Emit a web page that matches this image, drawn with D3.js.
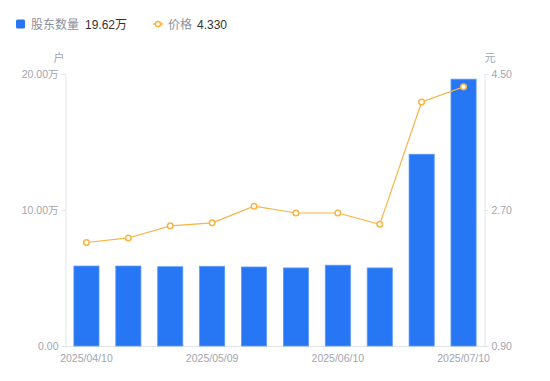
<!DOCTYPE html>
<html>
<head>
<meta charset="utf-8">
<script src="https://cdn.jsdelivr.net/npm/d3@7"></script>
<style>
  body { margin: 0; background: #fff; }
  text { font-family: "Liberation Sans", "Noto Sans CJK SC", sans-serif; }
</style>
</head>
<body>
<svg id="chart" width="550" height="381"></svg>
<script>
// data
var dates = ["2025/04/10", "2025/04/18", "2025/04/30", "2025/05/09", "2025/05/20",
  "2025/05/30", "2025/06/10", "2025/06/20", "2025/06/30", "2025/07/10"];
var holders = [5.88, 5.88, 5.83, 5.86, 5.81, 5.74, 5.94, 5.74, 14.1, 19.62]; // 万户
var prices = [2.27, 2.33, 2.49, 2.53, 2.75, 2.66, 2.66, 2.51, 4.13, 4.33];
var leftTicks = [0, 10, 20];
var rightTicks = [0.9, 2.7, 4.5];
var shownDates = ["2025/04/10", "2025/05/09", "2025/06/10", "2025/07/10"];

var svg = d3.select("#chart");
var m = { left: 65.5, right: 484.5, top: 74, bottom: 346 };

var x = d3.scaleBand().domain(dates).range([m.left, m.right]).paddingInner(0.4).paddingOuter(0.2);
var xc = d3.scaleBand().domain(dates).range([m.left, m.right]);
var y = d3.scaleLinear().domain([0, 20]).range([m.bottom, m.top]);
var y2 = d3.scaleLinear().domain([0.9, 4.5]).range([m.bottom, m.top]);

var gray = "#a2a5b0";
var axisColor = "#e3e5ea";
var orange = "#f8b444";
var blue = "#2777f4";

// left axis
var yAxis = svg.append("g")
  .attr("transform", "translate(" + m.left + ",0)")
  .call(d3.axisLeft(y).tickValues(leftTicks).tickSize(4).tickPadding(3)
    .tickFormat(function(d) { return d === 0 ? "0.00" : d.toFixed(2) + "万"; }));
// right axis
var y2Axis = svg.append("g")
  .attr("transform", "translate(" + m.right + ",0)")
  .call(d3.axisRight(y2).tickValues(rightTicks).tickSize(4).tickPadding(3)
    .tickFormat(function(d) { return d.toFixed(2); }));
// bottom axis
var xAxis = svg.append("g")
  .attr("transform", "translate(0," + m.bottom + ")")
  .call(d3.axisBottom(xc).tickSize(0).tickPadding(9)
    .tickFormat(function(d) { return shownDates.indexOf(d) >= 0 ? d : ""; }));

[yAxis, y2Axis, xAxis].forEach(function(g) {
  g.select(".domain").attr("stroke", axisColor);
  g.selectAll(".tick line").attr("stroke", axisColor);
  g.selectAll("text").attr("fill", gray).attr("font-size", 10.5);
});

// bars
svg.append("g").selectAll("rect")
  .data(holders)
  .enter()
  .append("rect")
  .attr("x", function(d, i) { return x(dates[i]); })
  .attr("width", x.bandwidth())
  .attr("y", function(d) { return y(d); })
  .attr("height", function(d) { return m.bottom - y(d); })
  .attr("fill", blue)
  .attr("stroke", "#5d9cf7")
  .attr("stroke-width", 0.8);

// price line
var line = d3.line()
  .x(function(d, i) { return xc(dates[i]) + xc.bandwidth() / 2; })
  .y(function(d) { return y2(d); });

svg.append("path")
  .datum(prices)
  .attr("d", line)
  .attr("fill", "none")
  .attr("stroke", orange)
  .attr("stroke-width", 1.2);

svg.append("g").selectAll("circle")
  .data(prices)
  .enter()
  .append("circle")
  .attr("cx", function(d, i) { return xc(dates[i]) + xc.bandwidth() / 2; })
  .attr("cy", function(d) { return y2(d); })
  .attr("r", 2.8)
  .attr("fill", "#fff")
  .attr("stroke", orange)
  .attr("stroke-width", 1.5);

// axis names
svg.append("text").attr("x", 59).attr("y", 62).attr("text-anchor", "middle")
  .attr("fill", gray).attr("font-size", 11).text("户");
svg.append("text").attr("x", 490).attr("y", 62).attr("text-anchor", "middle")
  .attr("fill", gray).attr("font-size", 11).text("元");

// legend
var lg = svg.append("g").attr("transform", "translate(16,24)");
lg.append("rect").attr("x", 0).attr("y", -4.5).attr("width", 9).attr("height", 9)
  .attr("rx", 1.5).attr("fill", blue);
lg.append("text").attr("x", 15).attr("y", 4.5).attr("fill", "#8c909b")
  .attr("font-size", 12).text("股东数量");
lg.append("text").attr("x", 69).attr("y", 4.5).attr("fill", "#333")
  .attr("font-size", 12).text(holders[holders.length - 1].toFixed(2) + "万");

lg.append("line").attr("x1", 137).attr("x2", 147).attr("y1", 0).attr("y2", 0)
  .attr("stroke", orange).attr("stroke-width", 1.5);
lg.append("circle").attr("cx", 142).attr("cy", 0).attr("r", 2.6)
  .attr("fill", "#fff").attr("stroke", orange).attr("stroke-width", 1.5);
lg.append("text").attr("x", 152).attr("y", 4.5).attr("fill", "#8c909b")
  .attr("font-size", 12).text("价格");
lg.append("text").attr("x", 181).attr("y", 4.5).attr("fill", "#333")
  .attr("font-size", 12).text(prices[prices.length - 1].toFixed(3));
</script>
</body>
</html>
